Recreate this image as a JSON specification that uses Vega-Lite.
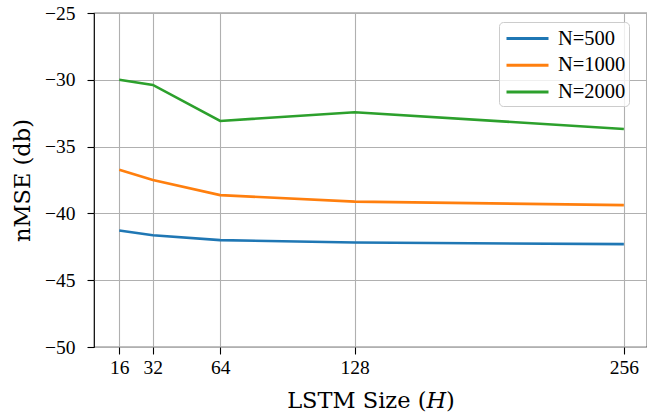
{
  "$schema": "https://vega.github.io/schema/vega-lite/v6.json",
  "autosize": "none",
  "padding": {"left": 94, "top": 13, "right": 0, "bottom": 70},
  "width": 553,
  "height": 334,
  "background": "white",
  "config": {
    "font": "Liberation Serif",
    "view": {"stroke": "black", "strokeWidth": 1.2},
    "axis": {
      "grid": true,
      "gridColor": "#b0b0b0",
      "gridWidth": 1.1,
      "domain": false,
      "tickColor": "black",
      "tickSize": 7,
      "tickWidth": 1.1,
      "labelFont": "Liberation Serif",
      "labelFontSize": 19.5,
      "labelColor": "black",
      "titleFont": "DejaVu Serif",
      "titleFontSize": 22.5,
      "titleFontWeight": "normal",
      "titleColor": "black"
    }
  },
  "data": {
    "values": [
      {"H": 16, "nmse": -41.28, "N": "N=500"},
      {"H": 32, "nmse": -41.63, "N": "N=500"},
      {"H": 64, "nmse": -42.0, "N": "N=500"},
      {"H": 128, "nmse": -42.18, "N": "N=500"},
      {"H": 256, "nmse": -42.3, "N": "N=500"},
      {"H": 16, "nmse": -36.73, "N": "N=1000"},
      {"H": 32, "nmse": -37.5, "N": "N=1000"},
      {"H": 64, "nmse": -38.63, "N": "N=1000"},
      {"H": 128, "nmse": -39.12, "N": "N=1000"},
      {"H": 256, "nmse": -39.38, "N": "N=1000"},
      {"H": 16, "nmse": -30.0, "N": "N=2000"},
      {"H": 32, "nmse": -30.38, "N": "N=2000"},
      {"H": 64, "nmse": -33.08, "N": "N=2000"},
      {"H": 128, "nmse": -32.43, "N": "N=2000"},
      {"H": 256, "nmse": -33.68, "N": "N=2000"}
    ]
  },
  "mark": {"type": "line", "strokeWidth": 2.6, "clip": true},
  "encoding": {
    "x": {
      "field": "H",
      "type": "quantitative",
      "scale": {"domain": [4, 267], "nice": false, "zero": false},
      "axis": {"values": [16, 32, 64, 128, 256], "title": "LSTM Size (𝐻)", "titlePadding": 13, "labelPadding": 4}
    },
    "y": {
      "field": "nmse",
      "type": "quantitative",
      "scale": {"domain": [-50, -25], "nice": false, "zero": false},
      "axis": {"values": [-50, -45, -40, -35, -30, -25], "labelExpr": "replace(datum.label, '-', '−')", "title": "nMSE (db)", "titlePadding": 10, "labelPadding": 12}
    },
    "color": {
      "field": "N",
      "type": "nominal",
      "sort": ["N=500", "N=1000", "N=2000"],
      "scale": {"domain": ["N=500", "N=1000", "N=2000"], "range": ["#1f77b4", "#ff7f0e", "#2ca02c"]},
      "legend": {
        "title": null,
        "orient": "none",
        "legendX": 405,
        "legendY": 9,
        "symbolType": "M-1.75,0H1.75",
        "symbolSize": 576,
        "symbolStrokeWidth": 3,
        "symbolOffset": 12,
        "labelFontSize": 20.5,
        "labelFont": "Liberation Serif",
        "labelColor": "black",
        "labelOffset": 17,
        "rowPadding": 2.7,
        "padding": 3,
        "cornerRadius": 4,
        "strokeColor": "#cccccc",
        "fillColor": "rgba(255,255,255,0.8)"
      }
    }
  }
}
